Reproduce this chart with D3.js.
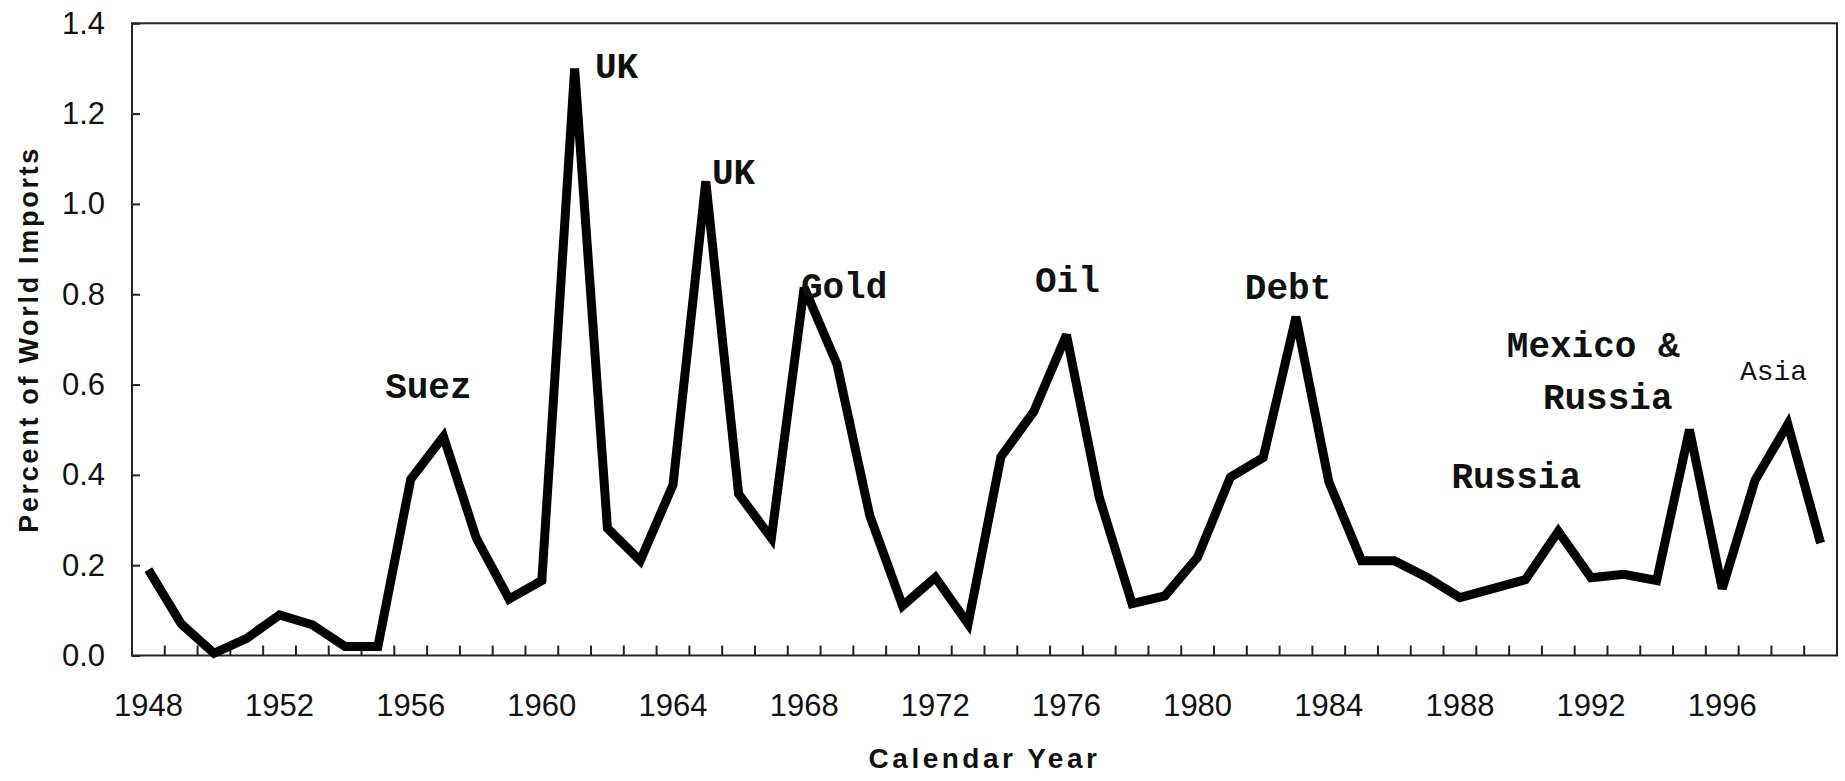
<!DOCTYPE html>
<html>
<head>
<meta charset="utf-8">
<script src="https://cdn.jsdelivr.net/npm/d3@7"></script>
<style>
  body { margin: 0; background: #fff; }
  .tick text { font-family: Arial, 'Liberation Sans', sans-serif; }
  .note { font-family: 'Courier New', 'Liberation Mono', monospace; font-weight: bold; fill: #111; }
</style>
</head>
<body>
<script>
// data
const years = [1948, 1949, 1950, 1951, 1952, 1953, 1954, 1955, 1956, 1957,
               1958, 1959, 1960, 1961, 1962, 1963, 1964, 1965, 1966, 1967,
               1968, 1969, 1970, 1971, 1972, 1973, 1974, 1975, 1976, 1977,
               1978, 1979, 1980, 1981, 1982, 1983, 1984, 1985, 1986, 1987,
               1988, 1989, 1990, 1991, 1992, 1993, 1994, 1995, 1996, 1997,
               1998, 1999]
const pctImports = [0.19, 0.07, 0.005, 0.038, 0.09, 0.068, 0.02, 0.02, 0.39, 0.485,
                    0.26, 0.125, 0.166, 1.30, 0.282, 0.21, 0.378, 1.05, 0.358, 0.26,
                    0.815, 0.645, 0.31, 0.11, 0.173, 0.07, 0.44, 0.54, 0.71, 0.35,
                    0.115, 0.132, 0.218, 0.395, 0.438, 0.75, 0.385, 0.21, 0.21, 0.173,
                    0.128, 0.148, 0.168, 0.275, 0.172, 0.18, 0.166, 0.50, 0.148, 0.388,
                    0.512, 0.249]
const xLabels = [1948, 1952, 1956, 1960, 1964, 1968, 1972, 1976, 1980, 1984, 1988, 1992, 1996]
const yTicks = [0, 0.2, 0.4, 0.6, 0.8, 1.0, 1.2, 1.4]

// crisis notes: text, year (left edge), value (baseline)
const noteText = ['Suez', 'UK', 'UK', 'Gold', 'Oil', 'Debt', 'Mexico &', 'Russia', 'Russia', 'Asia']
const noteYear = [1955.72, 1962.12, 1965.69, 1968.40, 1975.54, 1981.94, 1989.93, 1991.03, 1988.24, 1997.04]
const noteValue = [0.570, 1.279, 1.044, 0.792, 0.805, 0.790, 0.661, 0.546, 0.371, 0.610]
const noteBold = [true, true, true, true, true, true, true, true, true, false]

let w = 1845,
    h = 781
let plotL = 132, plotR = 1837, plotT = 23.3, plotB = 655.5

let svg = d3.select('body').append('svg')
            .attr('width', w)
            .attr('height', h)

let x = d3.scaleBand().domain(years).range([plotL, plotR])
let xYear = d3.scaleLinear().domain([1948, 2000]).range([plotL, plotR])
let y = d3.scaleLinear().domain([0, 1.4]).range([plotB, plotT])

// frame
svg.append('rect')
    .attr('x', plotL)
    .attr('y', plotT)
    .attr('width', plotR - plotL)
    .attr('height', plotB - plotT)
    .attr('fill', 'none')
    .attr('stroke', '#222')
    .attr('stroke-width', 2)

// x ticks sit between the years, pointing up
svg.append('g')
    .selectAll('line')
    .data(years.slice(1))
    .enter()
    .append('line')
    .attr('x1', d => x(d))
    .attr('x2', d => x(d))
    .attr('y1', plotB)
    .attr('y2', plotB - 10)
    .attr('stroke', '#222')
    .attr('stroke-width', 2)

svg.append('g')
    .selectAll('text')
    .data(xLabels)
    .enter()
    .append('text')
    .attr('x', d => x(d) + x.bandwidth() / 2)
    .attr('y', 716)
    .attr('text-anchor', 'middle')
    .style('font-family', "Arial, 'Liberation Sans', sans-serif")
    .style('font-size', '31px')
    .attr('fill', '#111')
    .text(d => d)

// y axis
let yAxis = svg.append('g')
    .attr('transform', 'translate(' + plotL + ',0)')
    .call(d3.axisLeft(y).tickValues(yTicks).tickSize(-8).tickPadding(27).tickFormat(d3.format('.1f')))
yAxis.select('.domain').remove()
yAxis.selectAll('.tick line').attr('stroke', '#222').attr('stroke-width', 2)
yAxis.selectAll('.tick text').style('font-size', '31px').attr('fill', '#111')

// line
let line = d3.line()
    .x((d, i) => x(years[i]) + x.bandwidth() / 2)
    .y(d => y(d))

svg.append('path')
    .datum(pctImports)
    .attr('d', line)
    .attr('fill', 'none')
    .attr('stroke', '#000')
    .attr('stroke-width', 9)
    .attr('stroke-linejoin', 'miter')
    .attr('stroke-miterlimit', 3)

// notes
svg.append('g')
    .selectAll('text')
    .data(noteText)
    .enter()
    .append('text')
    .attr('class', 'note')
    .attr('x', (d, i) => xYear(noteYear[i]))
    .attr('y', (d, i) => y(noteValue[i]))
    .style('font-size', (d, i) => noteBold[i] ? '36px' : '28px')
    .style('font-weight', (d, i) => noteBold[i] ? 'bold' : 'normal')
    .text(d => d)

// axis titles
svg.append('text')
    .attr('x', (plotL + plotR) / 2)
    .attr('y', 768)
    .attr('text-anchor', 'middle')
    .style('font-family', "Arial, 'Liberation Sans', sans-serif")
    .style('font-weight', 'bold')
    .style('font-size', '28px')
    .style('letter-spacing', '3.5px')
    .attr('fill', '#111')
    .text('Calendar Year')

svg.append('text')
    .attr('transform', 'translate(38,' + (plotT + plotB) / 2 + ') rotate(-90)')
    .attr('text-anchor', 'middle')
    .style('font-family', "Arial, 'Liberation Sans', sans-serif")
    .style('font-weight', 'bold')
    .style('font-size', '27px')
    .style('letter-spacing', '2.7px')
    .attr('fill', '#111')
    .text('Percent of World Imports')
</script>
</body>
</html>
